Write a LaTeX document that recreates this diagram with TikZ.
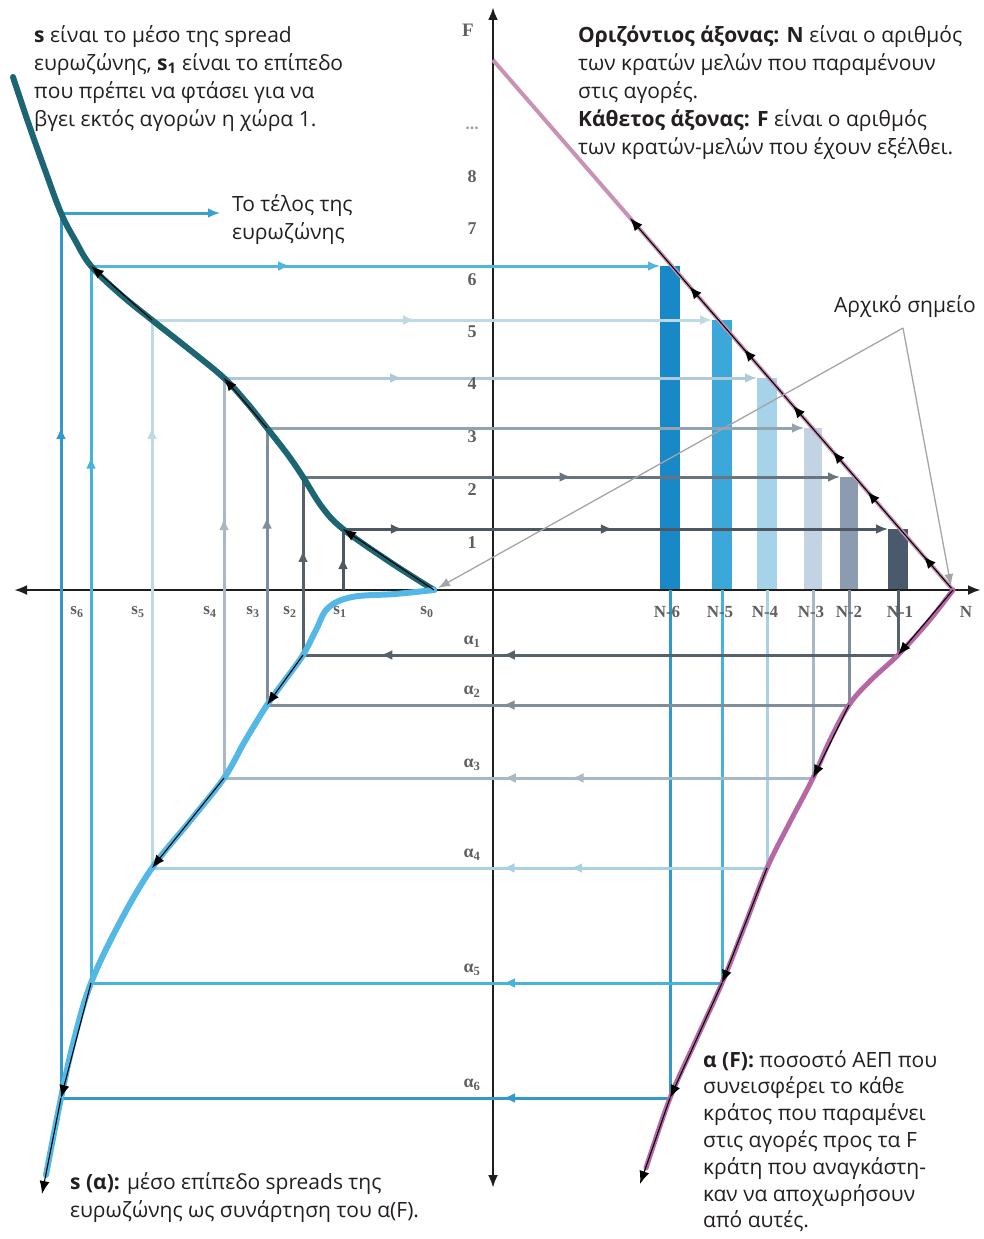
\documentclass[tikz,border=0pt]{standalone}
\usepackage{fontspec}
\setmainfont{Open Sans}
\newfontfamily\axfont{Liberation Serif}
\usepackage{tikz}
\usetikzlibrary{arrows.meta,decorations.markings}
\definecolor{fzink}{RGB}{35,31,32}
\definecolor{fzaxis}{RGB}{30,30,30}
\definecolor{fzlabel}{RGB}{95,95,95}
\definecolor{fzhint}{RGB}{165,165,165}
\definecolor{fzteal}{RGB}{28,102,116}
\definecolor{fzsky}{RGB}{84,184,230}
\definecolor{fzrose}{RGB}{200,146,180}
\definecolor{fzmauve}{RGB}{182,104,166}
\definecolor{fzupone}{RGB}{78,88,99}
\definecolor{fzuptwo}{RGB}{104,116,128}
\definecolor{fzupthree}{RGB}{148,163,178}
\definecolor{fzupfour}{RGB}{176,200,215}
\definecolor{fzupfive}{RGB}{190,218,228}
\definecolor{fzupsix}{RGB}{80,182,220}
\definecolor{fzupseven}{RGB}{58,160,208}
\definecolor{fzbarone}{RGB}{74,90,108}
\definecolor{fzbartwo}{RGB}{139,156,176}
\definecolor{fzbarthree}{RGB}{194,212,228}
\definecolor{fzbarfour}{RGB}{166,210,234}
\definecolor{fzbarfive}{RGB}{60,168,218}
\definecolor{fzbarsix}{RGB}{24,136,198}
\definecolor{fzdnone}{RGB}{86,97,108}
\definecolor{fzdntwo}{RGB}{128,141,154}
\definecolor{fzdnthree}{RGB}{170,184,197}
\definecolor{fzdnfour}{RGB}{168,210,228}
\definecolor{fzdnfive}{RGB}{70,180,216}
\definecolor{fzdnsix}{RGB}{50,152,206}
\tikzset{
  fzaxisline/.style={draw=fzaxis, line width=2.6pt, {Latex[length=13pt,width=10pt]}-{Latex[length=13pt,width=10pt]}},
  fzguide/.style={line width=3pt},
  fzend/.style={-{Latex[length=12pt,width=10pt]}},
  fzmid/.style={postaction={decorate, decoration={markings, mark=at position #1 with {\arrow{Latex[length=12pt,width=10pt]}}}}},
  fzcurve/.style={line width=6pt, line cap=round, line join=round},
  fzover/.style={draw=black, line width=1.1pt, -{Latex[length=13pt,width=10pt]}},
  fzhintline/.style={draw=fzhint, line width=1.3pt, -{Latex[length=12pt,width=9pt]}},
  fznote/.style={align=left, inner sep=0pt, text=fzink, font=\fontsize{21}{28}\selectfont},
  fzaxlbl/.style={inner sep=0pt, text=fzlabel, font=\axfont\bfseries\fontsize{18}{18}\selectfont},
  fzticklbl/.style={inner sep=0pt, text=fzlabel, font=\axfont\bfseries\fontsize{17}{17}\selectfont}
}

\begin{document}
\begin{tikzpicture}[x=1pt, y=-1pt]
  \useasboundingbox (0,0) rectangle (984,1239);
  \coordinate (xl) at (14,590);
  \coordinate (xr) at (981,590);
  \coordinate (yt) at (493,7);
  \coordinate (yb) at (493,1188);
  \coordinate (s0) at (434,590);
  \coordinate (ftop) at (493,60);
  \coordinate (nend) at (953,590);
  \coordinate (dtop) at (630,218);
  \coordinate (euend) at (220,213);
  \coordinate (hint) at (903,328);
  \foreach \k/\x/\y in {1/343/529, 2/303/477, 3/267/428, 4/224/378, 5/152/320, 6/91/266, 7/61/213}
    \coordinate (u\k) at (\x,\y);
  \foreach \k/\x/\y in {1/898/529, 2/849/477, 3/813/428, 4/767/378, 5/722/320, 6/670/266} {
    \coordinate (b\k) at (\x,\y);
    \coordinate (n\k) at (\x,590);
  }
  \foreach \k/\px/\qx/\y in {1/898/303/655, 2/849/267/705, 3/813/224/778, 4/767/152/868, 5/722/91/983, 6/670/61/1098} {
    \coordinate (p\k) at (\px,\y);
    \coordinate (q\k) at (\qx,\y);
  }
  \coordinate (s1foot) at (343,590);

  \fill[fzbarone] ([xshift=-10pt]b1) rectangle ([xshift=10pt]n1);
  \fill[fzbartwo] ([xshift=-9pt]b2) rectangle ([xshift=9pt]n2);
  \fill[fzbarthree] ([xshift=-9pt]b3) rectangle ([xshift=9pt]n3);
  \fill[fzbarfour] ([xshift=-10pt]b4) rectangle ([xshift=10pt]n4);
  \fill[fzbarfive] ([xshift=-10pt]b5) rectangle ([xshift=10pt]n5);
  \fill[fzbarsix] ([xshift=-10pt]b6) rectangle ([xshift=10pt]n6);

  \draw[fzaxisline] (xl) -- (xr);
  \draw[fzaxisline] (yb) -- (yt);

  \draw[fzrose, line width=4pt] (ftop) -- (nend);
  \draw[fzover, fzmid=0.09, fzmid=0.264, fzmid=0.372, fzmid=0.495, fzmid=0.647, fzmid=0.815] (nend) -- (dtop);

  \draw[fzguide, fzupone, fzend, fzmid=0.11, fzmid=0.495] (u1) -- ([xshift=-10pt]b1);
  \draw[fzguide, fzuptwo, fzend, fzmid=0.5] (u2) -- ([xshift=-9pt]b2);
  \draw[fzguide, fzupthree, fzend] (u3) -- ([xshift=-9pt]b3);
  \draw[fzguide, fzupfour, fzend, fzmid=0.334] (u4) -- ([xshift=-10pt]b4);
  \draw[fzguide, fzupfive, fzend, fzmid=0.47] (u5) -- ([xshift=-10pt]b5);
  \draw[fzguide, fzupsix, fzend, fzmid=0.35] (u6) -- ([xshift=-10pt]b6);
  \draw[fzguide, fzupseven, fzend] (u7) -- (euend);

  \draw[fzguide, fzdnone] (n1) -- (p1);
  \draw[fzguide, fzdntwo] (n2) -- (p2);
  \draw[fzguide, fzdnthree] (n3) -- (p3);
  \draw[fzguide, fzdnfour] (n4) -- (p4);
  \draw[fzguide, fzdnfive] (n5) -- (p5);
  \draw[fzguide, fzdnsix] (n6) -- (p6);

  \draw[fzguide, fzdnone, fzmid=0.664, fzmid=0.87] (p1) -- (q1);
  \draw[fzguide, fzdntwo, fzmid=0.595] (p2) -- (q2);
  \draw[fzguide, fzdnthree, fzmid=0.41, fzmid=0.525] (p3) -- (q3);
  \draw[fzguide, fzdnfour, fzmid=0.32, fzmid=0.43] (p4) -- (q4);
  \draw[fzguide, fzdnfive, fzmid=0.347] (p5) -- (q5);
  \draw[fzguide, fzdnsix, fzmid=0.274] (p6) -- (q6);

  \draw[fzguide, fzupone, fzmid=0.54] (s1foot) -- (u1);
  \draw[fzguide, fzdnone, fzmid=0.59] (q1) -- (u2);
  \draw[fzguide, fzdntwo, fzmid=0.68] (q2) -- (u3);
  \draw[fzguide, fzdnthree, fzmid=0.65] (q3) -- (u4);
  \draw[fzguide, fzupfive, fzmid=0.805] (q4) -- (u5);
  \draw[fzguide, fzdnfive, fzmid=0.734] (q5) -- (u6);
  \draw[fzguide, fzdnsix, fzmid=0.758] (q6) -- (u7);

  \draw[fzcurve, fzteal] plot[smooth, tension=0.6] coordinates {(13,77) (28,122) (45,170) (u7) (75,240) (u6) (120,294) (u5) (190,350) (u4) (247,403) (u3) (288,455) (u2) (322,507) (u1) (390,562) (s0)};
  \draw[fzcurve, fzsky] plot[smooth, tension=0.6] coordinates {(s0) (395,594) (352,597) (328,608) (316,630) (q1) (285,680) (q2) (245,741) (q3) (190,821) (q4) (120,922) (q5) (74,1040) (q6) (46,1175)};
  \draw[fzcurve, fzmauve, line width=5pt] plot[smooth, tension=0.6] coordinates {(nend) (928,622) (p1) (870,681) (p2) (830,740) (p3) (790,822) (p4) (745,925) (p5) (696,1040) (p6) (646,1168)};

  \draw[fzover] (s0) -- (u1);
  \draw[fzover] (u3) -- (u4);
  \draw[fzover] (u5) -- (u6);
  \draw[fzover] (q1) -- (q2);
  \draw[fzover] (q3) -- (q4);
  \draw[fzover] (q5) -- (q6);
  \draw[fzover] (q6) -- (42,1194);
  \draw[fzover] (nend) -- (p1);
  \draw[fzover] (p2) -- (p3);
  \draw[fzover] (p4) -- (p5);
  \draw[fzover] (p5) -- (p6);
  \draw[fzover] (p6) -- (640,1184);

  \draw[fzhintline] (hint) -- ([shift={(4,-2)}]s0);
  \draw[fzhintline] (hint) -- ([shift={(-2,-4)}]nend);

  \node[fzaxlbl, font=\axfont\bfseries\fontsize{19}{19}\selectfont] (flab) at (468,30) {F};
  \node[fzaxlbl, text=fzhint] (fdots) at (472,128) {...};
  \foreach \v/\y in {1/543, 2/490, 3/437, 4/384, 5/332, 6/280, 7/229, 8/177}
    \node[fzaxlbl] (f\v) at (472,\y) {\v};
  \foreach \i/\y in {1/642, 2/692, 3/765, 4/855, 5/970, 6/1085}
    \node[fzaxlbl] (a\i) at (472,\y) {α\textsubscript{\i}};
  \foreach \i/\x in {6/77, 5/138, 4/210, 3/253, 2/290, 1/340, 0/427}
    \node[fzticklbl] (sl\i) at (\x,612) {s\textsubscript{\i}};
  \foreach \i/\x in {6/667, 5/720, 4/765, 3/811, 2/849, 1/900}
    \node[fzticklbl] (nl\i) at (\x,612) {N-\i};
  \node[fzticklbl] (nl0) at (966,612) {N};

  \node[fznote, anchor=north west] (snote) at (34,25) {\textbf{s} είναι το μέσο της spread\\ευρωζώνης, \textbf{s\textsubscript{1}} είναι το επίπεδο\\που πρέπει να φτάσει για να\\βγει εκτός αγορών η χώρα 1.};
  \node[fznote, anchor=north west] (axnote) at (578,25) {\textbf{Οριζόντιος άξονας: N} είναι ο αριθμός\\των κρατών μελών που παραμένουν\\στις αγορές.\\\textbf{Κάθετος άξονας: F} είναι ο αριθμός\\των κρατών-μελών που έχουν εξέλθει.};
  \node[fznote, anchor=west] (eunote) at (232,220) {Το τέλος της\\ευρωζώνης};
  \node[fznote] (startnote) at (905,307) {Αρχικό σημείο};
  \node[fznote, anchor=north west] (snotealpha) at (70,1172) {\textbf{s (α):} μέσο επίπεδο spreads της\\ευρωζώνης ως συνάρτηση του α(F).};
  \node[fznote, anchor=north west, font=\fontsize{21}{26.8}\selectfont] (anote) at (703,1050) {\textbf{α (F):} ποσοστό ΑΕΠ που\\συνεισφέρει το κάθε\\κράτος που παραμένει\\στις αγορές προς τα F\\κράτη που αναγκάστη-\\καν να αποχωρήσουν\\από αυτές.};
\end{tikzpicture}
\end{document}
